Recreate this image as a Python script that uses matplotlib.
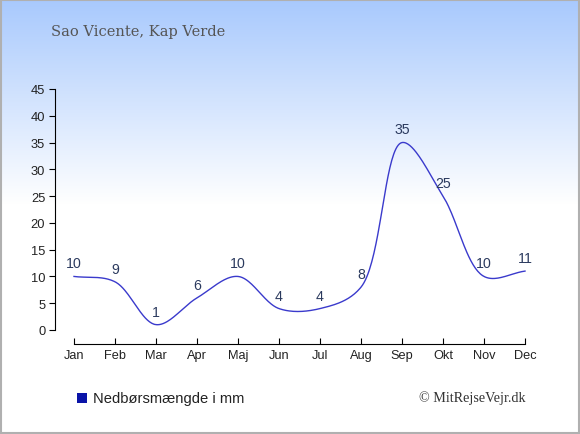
import numpy as np
import matplotlib
matplotlib.use("Agg")
import matplotlib.pyplot as plt
from matplotlib.patches import Rectangle

months = ['Jan', 'Feb', 'Mar', 'Apr', 'Maj', 'Jun', 'Jul', 'Aug', 'Sep', 'Okt', 'Nov', 'Dec']
rain_mm = [10, 9, 1, 6, 10, 4, 4, 8, 35, 25, 10, 11]

W, H = 580, 435
PX_PER_MONTH = 41.0
PX_PER_MM = 241.0 / 45


def smooth_line(xs, ys, n=40, alpha=0.5):
    # centripetal Catmull-Rom, computed in screen pixels
    pts = np.column_stack([np.asarray(xs, float) * PX_PER_MONTH,
                           np.asarray(ys, float) * PX_PER_MM])
    pts = np.vstack([2 * pts[0] - pts[1], pts, 2 * pts[-1] - pts[-2]])
    out = [pts[1]]
    for i in range(1, len(pts) - 2):
        p0, p1, p2, p3 = pts[i - 1], pts[i], pts[i + 1], pts[i + 2]
        t0 = 0.0
        t1 = t0 + np.linalg.norm(p1 - p0) ** alpha
        t2 = t1 + np.linalg.norm(p2 - p1) ** alpha
        t3 = t2 + np.linalg.norm(p3 - p2) ** alpha
        t = np.linspace(t1, t2, n)[1:][:, None]
        a1 = (t1 - t) / (t1 - t0) * p0 + (t - t0) / (t1 - t0) * p1
        a2 = (t2 - t) / (t2 - t1) * p1 + (t - t1) / (t2 - t1) * p2
        a3 = (t3 - t) / (t3 - t2) * p2 + (t - t2) / (t3 - t2) * p3
        b1 = (t2 - t) / (t2 - t0) * a1 + (t - t0) / (t2 - t0) * a2
        b2 = (t3 - t) / (t3 - t1) * a2 + (t - t1) / (t3 - t1) * a3
        c = (t2 - t) / (t2 - t1) * b1 + (t - t1) / (t2 - t1) * b2
        out.extend(c)
    out = np.array(out)
    return out[:, 0] / PX_PER_MONTH, out[:, 1] / PX_PER_MM


fig = plt.figure(figsize=(W / 100, H / 100), dpi=100)

# background gradient + border
bg = fig.add_axes([0, 0, 1, 1])
bg.set_xlim(0, W)
bg.set_ylim(H, 0)
bg.axis('off')
grad = np.ones((H, 1, 3))
top = np.array([0xa8, 0xc9, 0xfd]) / 255
for r in range(H):
    f = min(r / 205.0, 1.0)
    grad[r, 0] = top * (1 - f) + np.ones(3) * f
bg.imshow(grad, extent=[0, W, H, 0], aspect='auto')
bg.add_patch(Rectangle((0.5, 0.5), W - 1.5, H - 1.5, fill=False, edgecolor='#b0b0b0', lw=1.5))

bg.text(51, 32, 'Sao Vicente, Kap Verde', family='DejaVu Serif', fontsize=10.5,
        color='#555555', va='center', ha='left')

# legend and credit
bg.add_patch(Rectangle((77, 394), 10, 10, facecolor='#0a14a8', edgecolor='none'))
bg.text(93, 399, 'Nedbørsmængde i mm', family='Liberation Sans', fontsize=10.6,
        color='#222222', va='center', ha='left')
bg.text(526, 398, '© MitRejseVejr.dk', family='Liberation Serif', fontsize=10.2,
        color='#333333', va='center', ha='right')

# plot area
ax = fig.add_axes([55 / W, (H - 331) / H, (545 - 55) / W, (331 - 90) / H])
ax.patch.set_alpha(0)
x = np.arange(len(months))
sx, sy = smooth_line(x, rain_mm)
ax.plot(sx, sy, color='#3a3acc', lw=1.0)
for xi, v in zip(x, rain_mm):
    ax.annotate(str(v), (xi, v), xytext=(0, 9.4), textcoords='offset points',
                ha='center', va='center', fontsize=10.2, color='#2b3a5e',
                family='Liberation Sans')

ax.set_xlim(-19 / 41, (545 - 74) / 41)
ax.set_ylim(0, 45)
ax.set_yticks(range(0, 46, 5))
ax.set_xticks(x)
ax.set_xticklabels(months)
for s in ['top', 'right']:
    ax.spines[s].set_visible(False)
ax.spines['left'].set_bounds(0, 45)
ax.spines['bottom'].set_position(('outward', 10))
ax.spines['bottom'].set_bounds(0, 11)
ax.tick_params(axis='y', direction='out', length=4, labelsize=9.3, pad=3)
ax.tick_params(axis='x', direction='in', length=4, labelsize=9.2, pad=4)
for lab in ax.get_xticklabels() + ax.get_yticklabels():
    lab.set_family('Liberation Sans')
    lab.set_color('#222222')

fig.savefig('out.png', dpi=100)
